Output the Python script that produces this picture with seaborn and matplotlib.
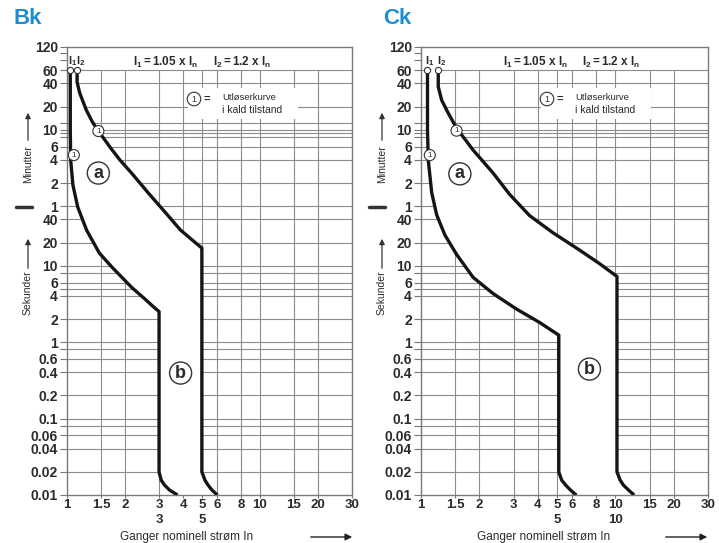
import numpy as np
import pandas as pd
import matplotlib
matplotlib.use("Agg")
import matplotlib.pyplot as plt
import matplotlib.transforms as mtransforms
from matplotlib.patches import Rectangle
from matplotlib.lines import Line2D
from matplotlib.ticker import NullLocator, NullFormatter
import seaborn as sns

# ---------------- data ----------------
titles = ["Bk", "Ck"]

# y axis (time in seconds); labels in minutes above 1 min, seconds below
y_tick_sec = [7200, 3600, 2400, 1200, 600, 360, 240, 120, 60,
              40, 20, 10, 6, 4, 2, 1, 0.6, 0.4, 0.2, 0.1, 0.06, 0.04, 0.02, 0.01]
y_tick_lab = ["120", "60", "40", "20", "10", "6", "4", "2", "1",
              "40", "20", "10", "6", "4", "2", "1", "0.6", "0.4", "0.2", "0.1",
              "0.06", "0.04", "0.02", "0.01"]
y_minor_sec = [6000, 4800, 720, 540, 480, 8, 5, 0.8, 0.08]
y_grid_sec = [3600, 2400, 1200, 720, 600, 540, 480, 360, 240, 120, 60,
              40, 20, 10, 8, 6, 5, 4, 2, 1, 0.8, 0.6, 0.4, 0.2, 0.1,
              0.08, 0.06, 0.04, 0.02]

x_tick_val = [1, 1.5, 2, 3, 4, 5, 6, 8, 10, 15, 20, 30]
x_tick_lab = ["1", "1.5", "2", "3", "4", "5", "6", "8", "10", "15", "20", "30"]
x_grid_val = [1.5, 2, 3, 4, 5, 6, 8, 10, 15, 20]

# Bk curves (multiple of In, seconds)
bk_i1_x = [1.04, 1.04, 1.04, 1.045, 1.073, 1.137, 1.264, 1.47, 1.712, 2.16, 2.55, 2.8, 3.0,
           3.0, 3.08, 3.2, 3.4, 3.74]
bk_i1_t = [3600, 1500, 590, 239, 113, 58, 29, 14.6, 9.5, 5.2, 3.6, 2.9, 2.5,
           0.02, 0.0156, 0.0135, 0.0116, 0.01]
bk_i2_x = [1.128, 1.128, 1.164, 1.259, 1.355, 1.454, 1.69, 1.88, 2.16, 2.64, 3.22, 3.88, 5.0,
           5.0, 5.19, 5.38, 5.64, 6.02]
bk_i2_t = [3600, 2505, 1800, 1078, 751, 573, 340, 240, 162, 88.7, 50, 29, 16.9,
           0.02, 0.0156, 0.0135, 0.0116, 0.01]

# Ck curves
ck_i1_x = [1.08, 1.08, 1.09, 1.135, 1.204, 1.328, 1.524, 1.855, 2.35, 3.1, 4.08, 5.12,
           5.12, 5.3, 5.55, 5.88, 6.3]
ck_i1_t = [3600, 590, 239, 90, 46, 25, 14, 7.0, 4.3, 2.7, 1.8, 1.23,
           0.02, 0.0156, 0.0135, 0.0116, 0.01]
ck_i2_x = [1.227, 1.227, 1.277, 1.38, 1.524, 1.855, 2.35, 2.86, 3.62, 4.76, 6.53, 8.25, 10.2,
           10.2, 10.6, 11.0, 11.7, 12.5]
ck_i2_t = [3600, 2174, 1457, 985, 627, 323, 162, 85, 45, 27, 16, 10.7, 7.2,
           0.02, 0.0156, 0.0135, 0.0116, 0.01]

# circled "1" markers on curves (x, t)
bk_one_marks = [(1.454, 573), (1.085, 278)]
ck_one_marks = [(1.524, 580), (1.11, 278)]
# circled letters
bk_letters = [("a", 1.454, 162), ("b", 3.88, 0.393)]
ck_letters = [("a", 1.585, 158), ("b", 7.36, 0.443)]
# bold values under x axis
bk_under = [(3, "3"), (5, "5")]
ck_under = [(5, "5"), (10, "10")]

header_1 = r"$\mathbf{I_1 = 1.05\ x\ I_n}$"
header_2 = r"$\mathbf{I_2 = 1.2\ x\ I_n}$"
legend_1 = "Utløserkurve"
legend_2 = "i kald tilstand"
xlabel = "Ganger nominell strøm In"

# ---------------- style ----------------
sns.set_style("white")
plt.rcParams["font.family"] = ["Liberation Sans", "DejaVu Sans"]
plt.rcParams["mathtext.fontset"] = "custom"
plt.rcParams["mathtext.rm"] = "Liberation Sans"
plt.rcParams["mathtext.bf"] = "Liberation Sans:bold"
plt.rcParams["mathtext.it"] = "Liberation Sans:italic"

W, H = 719, 543
fig = plt.figure(figsize=(W / 100, H / 100), dpi=100)
fig.patch.set_facecolor("white")


def fx(px):
    return px / W


def fy(py):
    return 1 - py / H


TXT = "#2b2b2b"
GRID = "#8c8c8c"
BLUE = "#1c8ed0"

panels = [
    dict(title=titles[0], left=67, width=285, i1=(bk_i1_x, bk_i1_t), i2=(bk_i2_x, bk_i2_t),
         ones=bk_one_marks, letters=bk_letters, under=bk_under, off=0),
    dict(title=titles[1], left=421, width=287, i1=(ck_i1_x, ck_i1_t), i2=(ck_i2_x, ck_i2_t),
         ones=ck_one_marks, letters=ck_letters, under=ck_under, off=355),
]

top_px, bot_px = 47, 495

for p in panels:
    ax = fig.add_axes([fx(p["left"]), fy(bot_px), p["width"] / W, (bot_px - top_px) / H])
    ax.set_xscale("log")
    ax.set_yscale("log")
    ax.set_xlim(1, 30)
    ax.set_ylim(0.01, 7200)
    ax.set_facecolor("white")

    # grid
    ax.hlines(y_grid_sec, 1, 30, colors=GRID, lw=0.8, zorder=1)
    ax.vlines(x_grid_val, 0.01, 3600, colors=GRID, lw=0.8, zorder=1)

    # band fill
    x1, t1 = p["i1"]
    x2, t2 = p["i2"]
    ax.fill(list(x1) + list(x2)[::-1], list(t1) + list(t2)[::-1], color="white", lw=0, zorder=2)

    df = pd.concat([
        pd.DataFrame({"x": x1, "t": t1, "curve": "I1"}),
        pd.DataFrame({"x": x2, "t": t2, "curve": "I2"}),
    ])
    for name, g in df.groupby("curve"):
        sns.lineplot(data=g, x="x", y="t", sort=False, estimator=None, ax=ax,
                     color="#151515", lw=2.4, zorder=3, solid_capstyle="butt",
                     solid_joinstyle="round")
    ax.set_xlabel("")
    ax.set_ylabel("")

    # open circles at top
    ax.plot([x1[0], x2[0]], [t1[0], t2[0]], "o", ms=4.5, mfc="white", mec="#333", mew=0.8,
            zorder=5, clip_on=False)
    ax.text(x1[0] * 1.03, 4700, r"$\mathbf{I_1}$", ha="center", va="center", fontsize=8, color=TXT, zorder=5)
    ax.text(x2[0] * 1.045, 4700, r"$\mathbf{I_2}$", ha="center", va="center", fontsize=8, color=TXT, zorder=5)

    for (mx, mt) in p["ones"]:
        ax.text(mx, mt, "1", ha="center", va="center", fontsize=5.8, color=TXT, zorder=6,
                bbox=dict(boxstyle="circle,pad=0.25", fc="white", ec="#333", lw=0.8))
    for (lt, lx, ly) in p["letters"]:
        ax.text(lx, ly, lt, ha="center", va="center", fontsize=13, fontweight="bold", color=TXT,
                zorder=6, bbox=dict(boxstyle="circle,pad=0.14", fc="white", ec="#333", lw=1.0))

    # ticks
    ax.set_yticks(y_tick_sec)
    ax.set_yticklabels(y_tick_lab, fontweight="bold", color=TXT, fontsize=10)
    ax.set_yticks(y_minor_sec, minor=True)
    ax.yaxis.set_minor_formatter(NullFormatter())
    ax.set_xticks(x_tick_val)
    ax.set_xticklabels(x_tick_lab, fontweight="bold", color=TXT, fontsize=9.5)
    ax.xaxis.set_minor_locator(NullLocator())
    ax.tick_params(axis="y", which="both", direction="out", length=5, width=0.8, color="#777",
                   pad=1.5, left=True)
    ax.tick_params(axis="x", which="major", direction="out", length=2, width=0.8, color="#777",
                   pad=1.2, bottom=True)
    for s in ax.spines.values():
        s.set_color("#7a7a7a")
        s.set_linewidth(1.0)

    trans = mtransforms.blended_transform_factory(ax.transData, ax.transAxes)
    for (ux, ul) in p["under"]:
        ax.text(ux, -0.0565, ul, transform=trans, ha="center", va="center", fontsize=9.5,
                fontweight="bold", color=TXT)

    off = p["off"]
    # header texts
    fig.text(fx(133 + off + 15 * (off > 0)), fy(62), header_1, fontsize=8.5, color=TXT, va="center")
    fig.text(fx(213 + off + 14 * (off > 0)), fy(62), header_2, fontsize=8.5, color=TXT, va="center")

    # legend with white box
    lx = 194 if off == 0 else 547
    fig.patches.append(Rectangle((fx(lx - 6), fy(119)), 110 / W, 31 / H, fc="white", ec="none",
                                 transform=fig.transFigure, zorder=1, figure=fig))
    fig.text(fx(lx), fy(99), "1", ha="center", va="center", fontsize=6.5, color=TXT, zorder=4,
             bbox=dict(boxstyle="circle,pad=0.25", fc="white", ec="#333", lw=0.8))
    fig.text(fx(lx + 13), fy(99), "=", ha="center", va="center", fontsize=8, fontweight="bold",
             color=TXT, zorder=4)
    fig.text(fx(lx + 28), fy(98), legend_1, ha="left", va="center", fontsize=6.8, color=TXT, zorder=4)
    fig.text(fx(lx + 28), fy(110), legend_2, ha="left", va="center", fontsize=7.5, color=TXT, zorder=4)

    # title
    tx = 13 if off == 0 else 383
    fig.text(fx(tx), fy(18), p["title"], ha="left", va="center", fontsize=16, fontweight="bold",
             color=BLUE)

    # side labels
    sx = 28 if off == 0 else 382
    fig.text(fx(sx), fy(164), "Minutter", rotation=90, ha="center", va="center", fontsize=7.5, color=TXT)
    fig.text(fx(sx), fy(293), "Sekunder", rotation=90, ha="center", va="center", fontsize=7.5, color=TXT)
    ax.annotate("", xy=(fx(sx), fy(110)), xytext=(fx(sx), fy(143)), xycoords="figure fraction",
                textcoords="figure fraction",
                arrowprops=dict(arrowstyle="-|>", color="#333", lw=0.9, mutation_scale=8))
    ax.annotate("", xy=(fx(sx), fy(236)), xytext=(fx(sx), fy(271)), xycoords="figure fraction",
                textcoords="figure fraction",
                arrowprops=dict(arrowstyle="-|>", color="#333", lw=0.9, mutation_scale=8))
    dx0 = 16 if off == 0 else 369
    fig.add_artist(Line2D([fx(dx0), fx(dx0 + 16)], [fy(207), fy(207)], lw=2.5, color="#333",
                          transform=fig.transFigure))

    # x label and arrow
    xc = 187 if off == 0 else 544
    fig.text(fx(xc), fy(537), xlabel, ha="center", va="center", fontsize=8.5, color=TXT)
    a0 = 308 if off == 0 else 663
    ax.annotate("", xy=(fx(a0 + 47), fy(537)), xytext=(fx(a0), fy(537)), xycoords="figure fraction",
                textcoords="figure fraction",
                arrowprops=dict(arrowstyle="-|>", color="#222", lw=1.0, mutation_scale=10))

fig.savefig("out.png", dpi=100, facecolor="white")
